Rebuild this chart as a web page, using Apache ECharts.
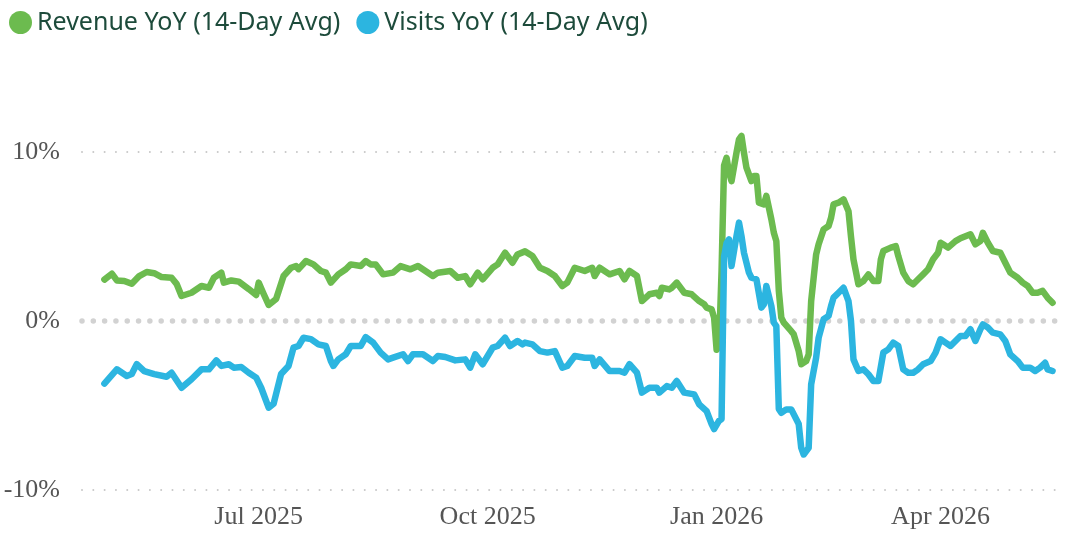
<!DOCTYPE html>
<html>
<head>
<meta charset="utf-8">
<script src="https://cdn.jsdelivr.net/npm/echarts@6/dist/echarts.min.js"></script>
<style>
  html, body { margin: 0; padding: 0; background: #fff; }
  #chart { width: 1073px; height: 534px; }
</style>
</head>
<body>
<div id="chart"></div>
<script>
var revenueDates = [
  '2025-04-30','2025-05-03','2025-05-05','2025-05-08','2025-05-11','2025-05-14','2025-05-17','2025-05-20','2025-05-23','2025-05-27',
  '2025-05-29','2025-05-31','2025-06-04','2025-06-08','2025-06-11','2025-06-13','2025-06-16','2025-06-17','2025-06-20','2025-06-23',
  '2025-06-27','2025-06-30','2025-07-01','2025-07-03','2025-07-05','2025-07-08','2025-07-11','2025-07-14','2025-07-16','2025-07-17',
  '2025-07-20','2025-07-23','2025-07-26','2025-07-28','2025-07-30','2025-08-02','2025-08-05','2025-08-07','2025-08-11','2025-08-13',
  '2025-08-15','2025-08-17','2025-08-20','2025-08-24','2025-08-27','2025-08-31','2025-09-03','2025-09-06','2025-09-09','2025-09-11',
  '2025-09-16','2025-09-19','2025-09-22','2025-09-24','2025-09-27','2025-09-29','2025-10-03','2025-10-05','2025-10-08','2025-10-11',
  '2025-10-13','2025-10-16','2025-10-19','2025-10-22','2025-10-25','2025-10-28','2025-10-31','2025-11-02','2025-11-05','2025-11-09',
  '2025-11-12','2025-11-13','2025-11-15','2025-11-19','2025-11-23','2025-11-25','2025-11-27','2025-11-30','2025-12-02','2025-12-05',
  '2025-12-08','2025-12-09','2025-12-10','2025-12-13','2025-12-14','2025-12-16','2025-12-19','2025-12-22','2025-12-25','2025-12-27',
  '2025-12-28','2025-12-30','2025-12-31','2026-01-01','2026-01-02','2026-01-03','2026-01-04','2026-01-05','2026-01-06','2026-01-07',
  '2026-01-09','2026-01-10','2026-01-11','2026-01-12','2026-01-13','2026-01-15','2026-01-16','2026-01-17','2026-01-18','2026-01-20',
  '2026-01-21','2026-01-23','2026-01-24','2026-01-25','2026-01-26','2026-01-27','2026-01-28','2026-01-31','2026-02-01','2026-02-03',
  '2026-02-04','2026-02-06','2026-02-07','2026-02-08','2026-02-10','2026-02-11','2026-02-13','2026-02-15','2026-02-16','2026-02-17',
  '2026-02-19','2026-02-21','2026-02-23','2026-02-24','2026-02-25','2026-02-27','2026-03-01','2026-03-03','2026-03-05','2026-03-07',
  '2026-03-08','2026-03-09','2026-03-12','2026-03-14','2026-03-15','2026-03-17','2026-03-19','2026-03-21','2026-03-23','2026-03-25',
  '2026-03-27','2026-03-29','2026-03-31','2026-04-01','2026-04-02','2026-04-04','2026-04-07','2026-04-09','2026-04-13','2026-04-15',
  '2026-04-17','2026-04-18','2026-04-20','2026-04-22','2026-04-25','2026-04-27','2026-04-29','2026-05-02','2026-05-04','2026-05-06',
  '2026-05-08','2026-05-10','2026-05-12','2026-05-14','2026-05-16'
];
var revenueValues = [
  2.45, 2.8, 2.4, 2.37, 2.2, 2.66, 2.9, 2.83, 2.6, 2.56,
  2.2, 1.48, 1.67, 2.07, 1.97, 2.56, 2.86, 2.27, 2.4, 2.33,
  1.89, 1.54, 2.27, 1.6, 0.95, 1.3, 2.66, 3.15, 3.25, 3.07,
  3.55, 3.35, 2.96, 2.86, 2.27, 2.76, 3.06, 3.35, 3.25, 3.55,
  3.35, 3.35, 2.76, 2.86, 3.25, 3.06, 3.25, 2.96, 2.66, 2.86,
  2.96, 2.56, 2.66, 2.17, 2.86, 2.47, 3.15, 3.35, 4.04, 3.45,
  3.94, 4.12, 3.85, 3.15, 2.96, 2.66, 2.07, 2.27, 3.15, 2.96,
  3.15, 2.66, 3.15, 2.76, 2.96, 2.47, 2.96, 2.66, 1.18, 1.58,
  1.67, 1.48, 1.97, 1.87, 1.97, 2.27, 1.67, 1.58, 1.18, 0.99,
  0.79, 0.69, 0.2, -1.7, -1.5, 3.0, 9.2, 9.66, 8.78, 8.28,
  9.96, 10.75, 10.95, 9.96, 9.07, 8.28, 8.58, 8.58, 7.0, 6.9,
  7.4, 6.02, 5.22, 4.73, 1.8, 0.2, -0.1, -0.6, -0.79, -1.78,
  -2.56, -2.37, -1.97, 1.18, 3.94, 4.54, 5.42, 5.62, 6.11, 6.9,
  7.0, 7.2, 6.5, 5.0, 3.65, 2.17, 2.37, 2.76, 2.37, 2.37,
  3.65, 4.14, 4.34, 4.43, 3.85, 2.86, 2.37, 2.17, 2.47, 2.76,
  3.06, 3.65, 4.04, 4.63, 4.54, 4.34, 4.73, 4.9, 5.13, 4.54,
  4.73, 5.22, 4.63, 4.14, 4.04, 3.45, 2.86, 2.56, 2.27, 2.07,
  1.67, 1.67, 1.78, 1.38, 1.08
];

var visitsDates = [
  '2025-04-30','2025-05-05','2025-05-09','2025-05-11','2025-05-13','2025-05-16','2025-05-20','2025-05-25','2025-05-27','2025-05-31',
  '2025-06-04','2025-06-08','2025-06-11','2025-06-14','2025-06-16','2025-06-19','2025-06-21','2025-06-24','2025-06-27','2025-06-30',
  '2025-07-02','2025-07-05','2025-07-07','2025-07-10','2025-07-13','2025-07-15','2025-07-17','2025-07-19','2025-07-22','2025-07-25',
  '2025-07-28','2025-07-30','2025-07-31','2025-08-02','2025-08-05','2025-08-07','2025-08-11','2025-08-13','2025-08-16','2025-08-19',
  '2025-08-22','2025-08-24','2025-08-28','2025-08-30','2025-09-01','2025-09-05','2025-09-09','2025-09-11','2025-09-14','2025-09-18',
  '2025-09-22','2025-09-24','2025-09-26','2025-09-29','2025-10-03','2025-10-05','2025-10-08','2025-10-10','2025-10-13','2025-10-15',
  '2025-10-16','2025-10-19','2025-10-22','2025-10-25','2025-10-28','2025-10-31','2025-11-02','2025-11-05','2025-11-09','2025-11-12',
  '2025-11-13','2025-11-15','2025-11-19','2025-11-23','2025-11-25','2025-11-27','2025-11-30','2025-12-02','2025-12-05','2025-12-08',
  '2025-12-09','2025-12-12','2025-12-14','2025-12-16','2025-12-19','2025-12-23','2025-12-25','2025-12-28','2025-12-30','2025-12-31',
  '2026-01-02','2026-01-03','2026-01-04','2026-01-05','2026-01-06','2026-01-07','2026-01-09','2026-01-10','2026-01-11','2026-01-12',
  '2026-01-14','2026-01-15','2026-01-17','2026-01-19','2026-01-20','2026-01-21','2026-01-23','2026-01-24','2026-01-25','2026-01-26',
  '2026-01-27','2026-01-29','2026-01-31','2026-02-03','2026-02-04','2026-02-05','2026-02-07','2026-02-08','2026-02-10','2026-02-11',
  '2026-02-13','2026-02-15','2026-02-16','2026-02-17','2026-02-19','2026-02-21','2026-02-23','2026-02-24','2026-02-25','2026-02-27',
  '2026-03-01','2026-03-03','2026-03-05','2026-03-07','2026-03-09','2026-03-11','2026-03-13','2026-03-15','2026-03-17','2026-03-19',
  '2026-03-21','2026-03-23','2026-03-25','2026-03-28','2026-03-30','2026-04-01','2026-04-03','2026-04-05','2026-04-07','2026-04-09',
  '2026-04-11','2026-04-13','2026-04-15','2026-04-17','2026-04-18','2026-04-20','2026-04-22','2026-04-25','2026-04-27','2026-04-29',
  '2026-05-02','2026-05-04','2026-05-07','2026-05-09','2026-05-11','2026-05-13','2026-05-14','2026-05-16'
];
var visitsValues = [
  -3.7, -2.86, -3.25, -3.14, -2.55, -2.96, -3.14, -3.3, -3.06, -3.95,
  -3.45, -2.86, -2.86, -2.33, -2.66, -2.56, -2.76, -2.72, -3.06, -3.35,
  -3.95, -5.13, -4.9, -3.14, -2.66, -1.58, -1.48, -0.99, -1.07, -1.38,
  -1.48, -2.37, -2.66, -2.27, -1.97, -1.48, -1.48, -0.95, -1.28, -1.87,
  -2.27, -2.17, -1.97, -2.37, -1.97, -1.97, -2.37, -2.07, -2.13, -2.33,
  -2.27, -2.76, -1.97, -2.56, -1.58, -1.48, -0.99, -1.48, -1.18, -1.38,
  -1.28, -1.38, -1.78, -1.87, -1.78, -2.76, -2.66, -2.07, -2.17, -2.17,
  -2.66, -2.27, -2.96, -2.96, -3.06, -2.56, -3.06, -4.24, -3.95, -3.95,
  -4.24, -3.85, -3.95, -3.55, -4.24, -4.34, -4.93, -5.33, -6.1, -6.4,
  -5.9, -5.8, 3.8, 4.6, 4.83, 3.25, 5.03, 5.82, 5.03, 4.04,
  2.86, 2.56, 2.47, 0.79, 0.99, 2.07, 0.89, -0.1, -0.3, -5.2,
  -5.43, -5.23, -5.23, -6.1, -7.5, -7.9, -7.5, -3.75, -2.17, -0.99,
  0.1, 0.3, 0.89, 1.38, 1.67, 1.97, 1.18, 0.0, -2.27, -2.96,
  -2.86, -3.15, -3.55, -3.55, -1.87, -1.68, -1.28, -1.48, -2.86, -3.06,
  -3.06, -2.86, -2.56, -2.37, -1.87, -1.08, -1.28, -1.48, -1.18, -0.89,
  -0.89, -0.49, -1.18, -0.49, -0.2, -0.39, -0.69, -0.79, -1.18, -1.97,
  -2.37, -2.76, -2.76, -2.96, -2.76, -2.47, -2.86, -2.96
];

var yTicks = [-10, 0, 10];
var monthNames = ['Jan','Feb','Mar','Apr','May','Jun','Jul','Aug','Sep','Oct','Nov','Dec'];

var myChart = echarts.init(document.getElementById('chart'));

function pairs(dates, values) {
  return dates.map(function (d, i) { return [d, values[i]]; });
}

var serifFont = '"Liberation Serif", "Times New Roman", serif';

var option = {
  animation: false,
  legend: {
    left: 4,
    top: 5,
    icon: 'circle',
    itemWidth: 23,
    itemHeight: 23,
    itemGap: 16,
    textStyle: {
      fontFamily: '"Noto Sans", sans-serif',
      fontSize: 25,
      color: '#1d4b3b'
    },
    data: ['Revenue YoY (14-Day Avg)', 'Visits YoY (14-Day Avg)']
  },
  grid: { left: 82, right: 8, top: 152, bottom: 44 },
  xAxis: {
    type: 'time',
    min: '2025-04-21',
    max: '2026-05-21',
    splitNumber: 13,
    axisLine: { show: false },
    axisTick: { show: false },
    splitLine: { show: false },
    axisLabel: {
      margin: 14,
      fontFamily: serifFont,
      fontSize: 26,
      color: '#555',
      hideOverlap: false,
      formatter: function (value) {
        var d = new Date(value);
        if (d.getDate() !== 1 || d.getMonth() % 3 !== 0) return '';
        return monthNames[d.getMonth()] + ' ' + d.getFullYear();
      }
    }
  },
  yAxis: [{
    type: 'value',
    min: yTicks[0],
    max: yTicks[yTicks.length - 1],
    interval: 10,
    axisLine: { show: false },
    axisTick: { show: false },
    axisLabel: {
      margin: 22,
      fontFamily: serifFont,
      fontSize: 26,
      color: '#555',
      formatter: '{value}%'
    },
    splitLine: {
      lineStyle: {
        color: ['#c8c8c8', 'rgba(0,0,0,0)', '#c8c8c8'],
        width: 2,
        type: [0.01, 11.3],
        cap: 'round'
      }
    }
  }, {
    // second axis only draws the heavier dotted zero line
    type: 'value',
    min: yTicks[0],
    max: yTicks[yTicks.length - 1],
    interval: 10,
    position: 'left',
    axisLine: { show: false },
    axisTick: { show: false },
    axisLabel: { show: false },
    splitLine: {
      lineStyle: {
        color: ['rgba(0,0,0,0)', '#d2d2d2', 'rgba(0,0,0,0)'],
        width: 5.5,
        type: [0.01, 11.3],
        cap: 'round'
      }
    }
  }],
  series: [{
    name: 'Revenue YoY (14-Day Avg)',
    type: 'line',
    showSymbol: false,
    clip: false,
    color: '#6cbb4f',
    lineStyle: { width: 6.5, color: '#6cbb4f', cap: 'round', join: 'round' },
    data: pairs(revenueDates, revenueValues)
  }, {
    name: 'Visits YoY (14-Day Avg)',
    type: 'line',
    showSymbol: false,
    clip: false,
    color: '#2cb5e0',
    lineStyle: { width: 6.5, color: '#2cb5e0', cap: 'round', join: 'round' },
    data: pairs(visitsDates, visitsValues)
  }]
};

myChart.setOption(option);
</script>
</body>
</html>
